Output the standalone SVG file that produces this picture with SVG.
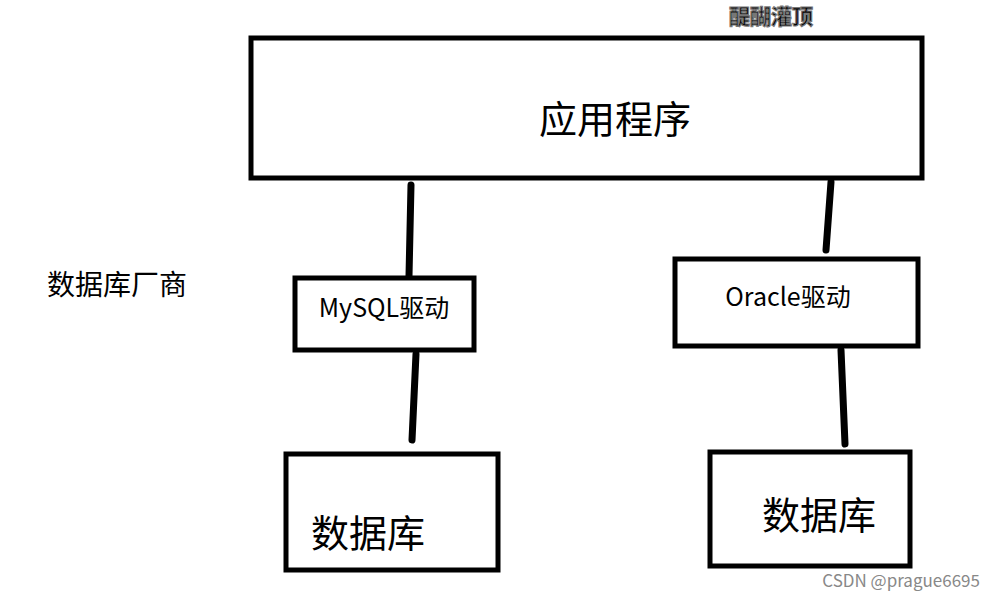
<svg xmlns="http://www.w3.org/2000/svg" width="995" height="600" viewBox="0 0 995 600">
<style>
.box{fill:#fff;stroke:#000;stroke-width:5}
.ln{stroke:#000;stroke-width:7;stroke-linecap:round;fill:none}
text{font-family:"Noto Sans CJK SC","Noto Sans",sans-serif;fill:#000}
</style>
<rect width="995" height="600" fill="#fff"/>
<text x="771" y="24" font-size="21" font-weight="bold" text-anchor="middle" fill="#fff" stroke="#777" stroke-width="1.2">醍醐灌顶</text>
<g id="connectors">
<line class="ln" x1="411" y1="185" x2="409" y2="276"/>
<line class="ln" x1="416" y1="354" x2="412" y2="440"/>
<line class="ln" x1="831" y1="182" x2="826" y2="250"/>
<line class="ln" x1="841" y1="350" x2="845" y2="444"/>
</g>
<g id="app"><rect class="box" x="251" y="38" width="671" height="140"/><text x="615" y="133" font-size="38" text-anchor="middle">应用程序</text></g>
<g id="vendor"><text x="47" y="295" font-size="28">数据库厂商</text></g>
<g id="mysql"><rect class="box" x="295" y="278" width="179" height="72"/><text x="384" y="317" font-size="25" text-anchor="middle">MySQL驱动</text></g>
<g id="oracle"><rect class="box" x="675" y="259" width="243" height="87"/><text x="788" y="306" font-size="25" text-anchor="middle">Oracle驱动</text></g>
<g id="db1"><rect class="box" x="286" y="454" width="212" height="116"/><text x="368" y="547" font-size="38" text-anchor="middle">数据库</text></g>
<g id="db2"><rect class="box" x="710" y="452" width="200" height="114"/><text x="819" y="529" font-size="38" text-anchor="middle">数据库</text></g>
<text x="980" y="587" font-size="17" text-anchor="end" style="fill:#888">CSDN @prague6695</text>
</svg>
